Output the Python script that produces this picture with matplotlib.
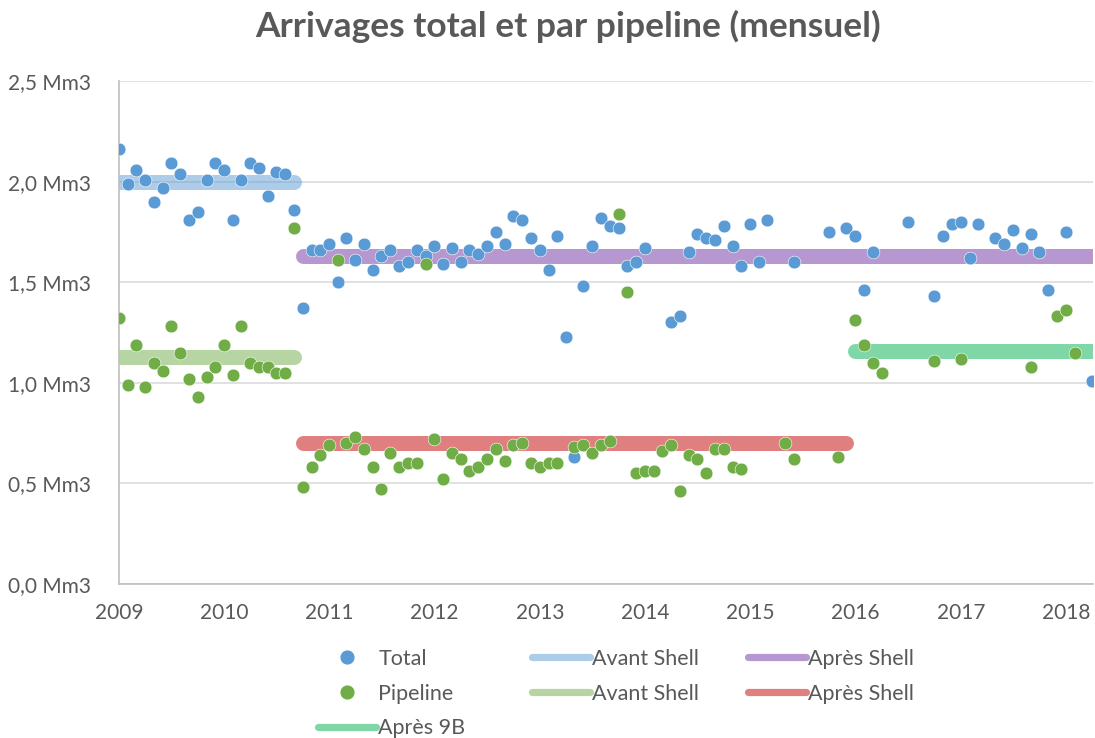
import numpy as np
import pandas as pd
import matplotlib
matplotlib.use("Agg")
import matplotlib.pyplot as plt
from matplotlib.lines import Line2D

# ---------------- data ----------------
months = pd.date_range("2009-01-01", periods=112, freq="MS")
nan = np.nan
total = [
    2.16, 1.99, 2.06, 2.01, 1.90, 1.97, 2.09, 2.04, 1.81, 1.85, 2.01, 2.09,   # 2009
    2.06, 1.81, 2.01, 2.09, 2.07, 1.93, 2.05, 2.04, 1.86, 1.37, 1.66, 1.66,   # 2010
    1.69, 1.50, 1.72, 1.61, 1.69, 1.56, 1.63, 1.66, 1.58, 1.60, 1.66, 1.63,   # 2011
    1.68, 1.59, 1.67, 1.60, 1.66, 1.64, 1.68, 1.75, 1.69, 1.83, 1.81, 1.72,   # 2012
    1.66, 1.56, 1.73, 1.23, 0.63, 1.48, 1.68, 1.82, 1.78, 1.77, 1.58, 1.60,   # 2013
    1.67, nan, nan, 1.30, 1.33, 1.65, 1.74, 1.72, 1.71, 1.78, 1.68, 1.58,     # 2014
    1.79, 1.60, 1.81, nan, nan, 1.60, nan, nan, nan, 1.75, nan, 1.77,         # 2015
    1.73, 1.46, 1.65, nan, nan, nan, 1.80, nan, nan, 1.43, 1.73, 1.79,        # 2016
    1.80, 1.62, 1.79, nan, 1.72, 1.69, 1.76, 1.67, 1.74, 1.65, 1.46, nan,     # 2017
    1.75, nan, nan, 1.01,                                                     # 2018
]
pipeline = [
    1.32, 0.99, 1.19, 0.98, 1.10, 1.06, 1.28, 1.15, 1.02, 0.93, 1.03, 1.08,   # 2009
    1.19, 1.04, 1.28, 1.10, 1.08, 1.08, 1.05, 1.05, 1.77, 0.48, 0.58, 0.64,   # 2010
    0.69, 1.61, 0.70, 0.73, 0.67, 0.58, 0.47, 0.65, 0.58, 0.60, 0.60, 1.59,   # 2011
    0.72, 0.52, 0.65, 0.62, 0.56, 0.58, 0.62, 0.67, 0.61, 0.69, 0.70, 0.60,   # 2012
    0.58, 0.60, 0.60, nan, 0.68, 0.69, 0.65, 0.69, 0.71, 1.84, 1.45, 0.55,    # 2013
    0.56, 0.56, 0.66, 0.69, 0.46, 0.64, 0.62, 0.55, 0.67, 0.67, 0.58, 0.57,   # 2014
    nan, nan, nan, nan, 0.70, 0.62, nan, nan, nan, nan, 0.63, nan,            # 2015
    1.31, 1.19, 1.10, 1.05, nan, nan, nan, nan, nan, 1.11, nan, nan,          # 2016
    1.12, nan, nan, nan, nan, nan, nan, nan, 1.08, nan, nan, 1.33,            # 2017
    1.36, 1.15, nan, nan,                                                     # 2018
]

# reference levels: (label, level, start, end, colour)
avant_total = ("Avant Shell", 2.00, "2009-01-01", "2010-09-01", "#5B9BD5")
apres_total = ("Après Shell", 1.63, "2010-10-01", "2018-04-01", "#7030A0")
avant_pipe = ("Avant Shell", 1.13, "2009-01-01", "2010-09-01", "#70AD47")
apres_pipe = ("Après Shell", 0.70, "2010-10-01", "2015-12-01", "#C00000")
apres_9b = ("Après 9B", 1.16, "2016-01-01", "2018-04-01", "#00B050")

yticks = [0.0, 0.5, 1.0, 1.5, 2.0, 2.5]
years = list(range(2009, 2019))

# ---------------- style ----------------
FONT = "Lato"
TXT = "#595959"
plt.rcParams["font.family"] = [FONT, "DejaVu Sans"]

fig = plt.figure(figsize=(10.95, 7.38), dpi=100)
ax = fig.add_axes([119 / 1095, 1 - 584 / 738, (1093 - 119) / 1095, (584 - 81) / 738])

BAND_LW = 10.8
for lab, lev, s, e, col in [avant_total, apres_total, avant_pipe, apres_pipe, apres_9b]:
    ax.plot([pd.Timestamp(s), pd.Timestamp(e)], [lev, lev], color=col, alpha=0.5,
            lw=BAND_LW, solid_capstyle="round", zorder=2)

ax.plot(months, total, "o", color="#5B9BD5", ms=9.2, mec="white", mew=0.4, zorder=3)
ax.plot(months, pipeline, "o", color="#70AD47", ms=9.2, mec="white", mew=0.4, zorder=4)

ax.set_ylim(0, 2.5)
ax.set_xlim(pd.Timestamp("2009-01-01"), pd.Timestamp("2018-04-05"))
ax.set_yticks(yticks)
ax.set_yticklabels([f"{v:.1f}".replace(".", ",") + " Mm3" for v in yticks])
ax.set_xticks([pd.Timestamp(f"{y}-01-01") for y in years])
ax.set_xticklabels([str(y) for y in years])
ax.tick_params(axis="both", length=0, labelsize=15, labelcolor=TXT)
ax.tick_params(axis="y", pad=20)
ax.tick_params(axis="x", pad=14)
ax.grid(axis="y", color="#D9D9D9", lw=1.1, zorder=0)
ax.set_axisbelow(True)
for sp in ["top", "right"]:
    ax.spines[sp].set_visible(False)
for sp in ["left", "bottom"]:
    ax.spines[sp].set_color("#BFBFBF")
    ax.spines[sp].set_linewidth(1.2)

fig.text(568 / 1095, 1 - 26 / 738, "Arrivages total et par pipeline (mensuel)",
         ha="center", va="center", fontsize=25.5, fontweight="bold", color=TXT)

# ---------------- legend (three columns) ----------------
def mk(color):
    return Line2D([], [], ls="none", marker="o", color=color, ms=9.2)

def ln(color):
    return Line2D([], [], color=color, alpha=0.5, lw=5.2, solid_capstyle="round")

cols = [
    (318, [mk("#5B9BD5"), mk("#70AD47"), ln(apres_9b[4])], ["Total", "Pipeline", apres_9b[0]]),
    (532, [ln(avant_total[4]), ln(avant_pipe[4])], [avant_total[0], avant_pipe[0]]),
    (748, [ln(apres_total[4]), ln(apres_pipe[4])], [apres_total[0], apres_pipe[0]]),
]
for x0, hs, ls in cols:
    fig.legend(hs, ls, loc="upper left", bbox_to_anchor=(x0 / 1095, 1 - 649 / 738),
               frameon=False, fontsize=15.5, handlelength=2.7, handletextpad=0.1,
               labelspacing=0.68, borderpad=0, borderaxespad=0, labelcolor=TXT)

fig.savefig("out.png", dpi=100)
